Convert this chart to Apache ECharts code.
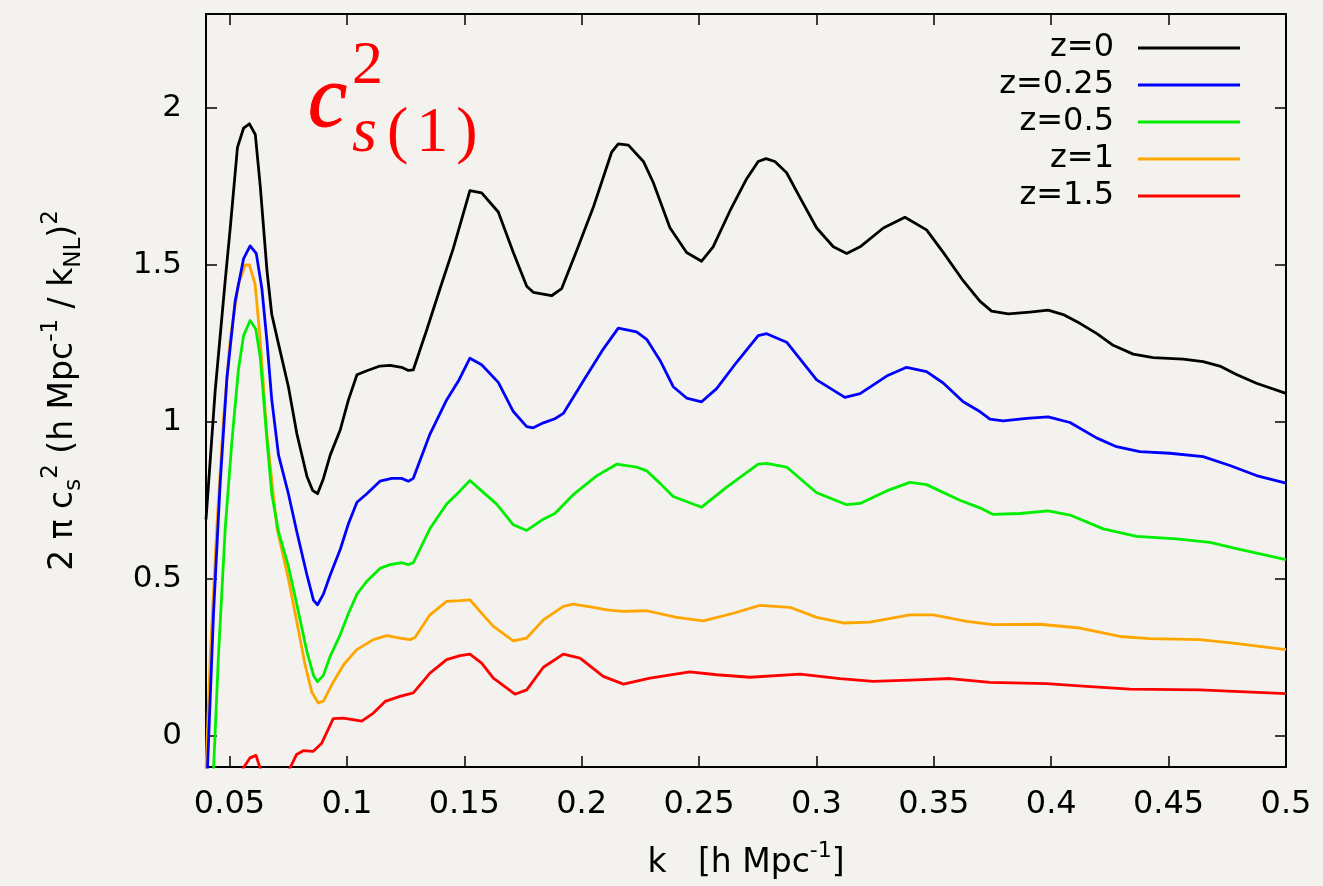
<!DOCTYPE html>
<html><head><meta charset="utf-8">
<script src="https://cdn.jsdelivr.net/npm/echarts@6/dist/echarts.min.js"></script>
<style>html,body{margin:0;padding:0;background:#f4f2ee;} #c{width:1323px;height:886px;}</style>
</head><body><div id="c"></div><script>
// ---- data ----
const seriesNames = ['z=0', 'z=0.25', 'z=0.5', 'z=1', 'z=1.5'];
const seriesColors = ['#000000', '#0000ff', '#00ee00', '#ffa500', '#ff0000'];

const kZ0 = [0.040,0.0439,0.0482,0.0503,0.0534,0.056,0.0585,0.061,0.0631,0.066,0.068,0.0709,0.0751,0.0787,0.083,0.0854,0.0875,0.09,0.0929,0.0972,0.1007,0.1043,0.1085,0.1141,0.1184,0.1233,0.1262,0.1283,0.134,0.1397,0.1453,0.1524,0.1574,0.1645,0.1709,0.1766,0.1794,0.1872,0.1915,0.1979,0.205,0.2128,0.2156,0.2199,0.2263,0.2305,0.2376,0.2447,0.2511,0.256,0.2632,0.2703,0.2752,0.2785,0.2823,0.2873,0.293,0.3001,0.3072,0.3129,0.3186,0.3285,0.3377,0.3469,0.354,0.3625,0.3696,0.3746,0.3817,0.3909,0.3987,0.4051,0.4122,0.4193,0.4264,0.4349,0.4434,0.4562,0.4647,0.4718,0.4789,0.4874,0.5];
const vZ0 = [0.689,1.098,1.452,1.616,1.875,1.936,1.95,1.916,1.752,1.48,1.343,1.248,1.112,0.962,0.826,0.782,0.771,0.819,0.894,0.975,1.071,1.15,1.163,1.178,1.180,1.174,1.164,1.166,1.293,1.425,1.552,1.737,1.730,1.669,1.540,1.432,1.413,1.402,1.425,1.546,1.685,1.86,1.886,1.882,1.830,1.763,1.619,1.540,1.512,1.558,1.673,1.775,1.830,1.839,1.830,1.794,1.715,1.618,1.558,1.537,1.558,1.618,1.652,1.612,1.540,1.45,1.385,1.353,1.344,1.350,1.356,1.342,1.314,1.282,1.244,1.216,1.205,1.2,1.192,1.178,1.151,1.123,1.091];

const kZ025 = [0.0406,0.0432,0.046,0.0489,0.0524,0.056,0.0588,0.0614,0.0638,0.0659,0.068,0.0709,0.0751,0.0787,0.083,0.0858,0.0875,0.09,0.0929,0.0972,0.1007,0.1043,0.1085,0.1141,0.1191,0.1233,0.1262,0.1283,0.1354,0.1425,0.1475,0.1524,0.1574,0.1645,0.1709,0.1766,0.1794,0.1837,0.1886,0.1922,0.2007,0.2092,0.2156,0.2234,0.2277,0.2334,0.239,0.2447,0.2511,0.2575,0.266,0.2752,0.2788,0.2873,0.3001,0.3121,0.3186,0.3299,0.3384,0.3469,0.354,0.3625,0.3696,0.3739,0.3796,0.3895,0.3987,0.408,0.4193,0.4278,0.4377,0.4505,0.4647,0.4761,0.4874,0.5];
const vZ025 = [-0.11,0.39,0.80,1.139,1.384,1.52,1.561,1.537,1.425,1.262,1.071,0.894,0.771,0.649,0.512,0.431,0.417,0.451,0.512,0.594,0.676,0.744,0.771,0.811,0.820,0.820,0.811,0.820,0.961,1.07,1.13,1.203,1.182,1.126,1.033,0.985,0.981,0.997,1.01,1.027,1.13,1.232,1.299,1.287,1.263,1.196,1.112,1.076,1.064,1.106,1.19,1.275,1.281,1.254,1.134,1.078,1.09,1.146,1.174,1.16,1.124,1.064,1.033,1.009,1.003,1.011,1.016,0.998,0.949,0.921,0.905,0.9,0.889,0.861,0.829,0.805];

const kZ05 = [0.0432,0.0453,0.0482,0.051,0.0538,0.056,0.0588,0.0612,0.0631,0.0659,0.068,0.0709,0.0751,0.0787,0.083,0.0858,0.0875,0.09,0.0929,0.0972,0.1007,0.1043,0.1085,0.1141,0.1184,0.1233,0.1262,0.1283,0.1354,0.1425,0.1482,0.1524,0.1574,0.1638,0.1709,0.1766,0.1837,0.1886,0.1964,0.2064,0.2149,0.2234,0.2277,0.2334,0.239,0.2511,0.2618,0.2752,0.2788,0.2873,0.3001,0.3129,0.3186,0.3299,0.3398,0.3469,0.3611,0.3696,0.3753,0.3867,0.3987,0.408,0.4222,0.4364,0.4534,0.4676,0.4789,0.5];
const vZ05 = [-0.11,0.253,0.662,0.935,1.166,1.275,1.323,1.296,1.207,0.948,0.771,0.649,0.54,0.417,0.267,0.192,0.172,0.192,0.253,0.322,0.39,0.451,0.492,0.533,0.545,0.551,0.545,0.551,0.66,0.738,0.78,0.813,0.78,0.738,0.672,0.654,0.69,0.708,0.768,0.828,0.865,0.856,0.844,0.804,0.762,0.728,0.792,0.865,0.868,0.856,0.774,0.736,0.74,0.78,0.807,0.8,0.75,0.726,0.705,0.708,0.716,0.703,0.659,0.635,0.627,0.616,0.596,0.561];

const kZ1 = [0.040,0.0418,0.0446,0.0474,0.0503,0.0538,0.0567,0.0585,0.0609,0.0631,0.0659,0.0702,0.0751,0.0787,0.0822,0.0851,0.0878,0.09,0.0943,0.0986,0.1042,0.1113,0.117,0.1226,0.1269,0.129,0.1354,0.1425,0.1482,0.1524,0.1567,0.1624,0.1709,0.1766,0.1837,0.1922,0.1964,0.205,0.2107,0.2178,0.2277,0.2405,0.2518,0.2646,0.2759,0.2887,0.3001,0.3114,0.3228,0.3398,0.3498,0.364,0.3753,0.3952,0.4122,0.4293,0.442,0.4633,0.4775,0.5];
const vZ1 = [-0.11,0.253,0.662,1.003,1.262,1.439,1.5,1.5,1.439,1.262,0.962,0.662,0.499,0.362,0.226,0.138,0.104,0.11,0.172,0.226,0.274,0.306,0.319,0.311,0.306,0.313,0.385,0.428,0.43,0.433,0.396,0.348,0.302,0.311,0.369,0.412,0.419,0.409,0.401,0.396,0.398,0.377,0.366,0.39,0.415,0.409,0.377,0.359,0.362,0.385,0.385,0.364,0.354,0.355,0.343,0.316,0.309,0.306,0.295,0.274];

const kZ15 = [0.0545,0.0559,0.0587,0.0613,0.063,0.0694,0.0758,0.0786,0.0814,0.0857,0.0893,0.0942,0.0985,0.1063,0.1113,0.1163,0.1226,0.1283,0.1354,0.1425,0.1482,0.1524,0.1574,0.1624,0.1716,0.1766,0.1837,0.1922,0.1993,0.2092,0.2178,0.2291,0.2461,0.2575,0.2717,0.293,0.31,0.3242,0.3427,0.3569,0.3739,0.398,0.4151,0.4335,0.4633,0.5];
const vZ15 = [-0.16,-0.103,-0.071,-0.063,-0.103,-0.2,-0.103,-0.06,-0.048,-0.05,-0.024,0.054,0.056,0.046,0.072,0.109,0.125,0.136,0.199,0.242,0.255,0.26,0.231,0.183,0.132,0.146,0.218,0.26,0.247,0.189,0.164,0.183,0.203,0.194,0.186,0.196,0.182,0.173,0.178,0.182,0.17,0.166,0.157,0.148,0.146,0.134];

const xTicks = [0.05,0.1,0.15,0.2,0.25,0.3,0.35,0.4,0.45,0.5];
const yTicks = [0,0.5,1,1.5,2];

// ---- chart ----
const kArrays = [kZ0, kZ025, kZ05, kZ1, kZ15];
const vArrays = [vZ0, vZ025, vZ05, vZ1, vZ15];
const FONT = 'DejaVu Sans';

const chart = echarts.init(document.getElementById('c'), null, {renderer: 'canvas'});

const frameLine = {show: true, onZero: false, lineStyle: {color: '#000', width: 2}};
const tickStyle = (vals) => ({show: true, inside: true, length: 11, customValues: vals, lineStyle: {color: '#000', width: 1.5}});

const series = seriesNames.map((name, i) => ({
  name: name,
  type: 'line',
  data: kArrays[i].map((k, j) => [k, vArrays[i][j]]),
  showSymbol: false,
  symbol: 'none',
  clip: true,
  smooth: false,
  color: seriesColors[i],
  lineStyle: {color: seriesColors[i], width: 2.8, join: 'round'},
  itemStyle: {color: seriesColors[i]},
  xAxisIndex: 0,
  yAxisIndex: 0,
  z: 10 - i
}));

chart.setOption({
  animation: false,
  backgroundColor: '#f4f2ee',
  grid: {left: 206, right: 37, top: 14, bottom: 119, containLabel: false, outerBoundsMode: 'none'},
  xAxis: [{
    type: 'value', min: 0.04, max: 0.5, position: 'bottom',
    axisLine: frameLine, axisTick: tickStyle(xTicks),
    axisLabel: {show: true, customValues: xTicks, margin: 22, fontFamily: FONT, fontSize: 32, color: '#000'},
    splitLine: {show: false},
    name: '{t|k   [h Mpc}{sup|-1}{t|]}', nameLocation: 'middle', nameGap: 73,
    nameTextStyle: {fontFamily: FONT, fontSize: 33, color: '#000', rich: {
      t: {fontFamily: FONT, fontSize: 33, lineHeight: 46, color: '#000'},
      sup: {fontFamily: FONT, fontSize: 22, lineHeight: 24, verticalAlign: 'top', color: '#000'}
    }}
  }, {
    type: 'value', min: 0.04, max: 0.5, position: 'top',
    axisLine: frameLine, axisTick: tickStyle(xTicks),
    axisLabel: {show: false}, splitLine: {show: false}
  }],
  yAxis: [{
    type: 'value', min: -0.1, max: 2.3, position: 'left',
    axisLine: frameLine, axisTick: tickStyle(yTicks),
    axisLabel: {show: true, customValues: yTicks, margin: 24, fontFamily: FONT, fontSize: 31, color: '#000'},
    splitLine: {show: false},
    name: '{t|2 π c}{sub|s}{sup|2}{t| (h Mpc}{sup|-1}{t| / k}{sub|NL}{t|)}{sup|2}',
    nameLocation: 'middle', nameGap: 120, nameRotate: 90,
    nameTextStyle: {fontFamily: FONT, fontSize: 33, color: '#000', rich: {
      t: {fontFamily: FONT, fontSize: 33, lineHeight: 46, color: '#000'},
      sup: {fontFamily: FONT, fontSize: 23, lineHeight: 24, verticalAlign: 'top', color: '#000'},
      sub: {fontFamily: FONT, fontSize: 23, lineHeight: 24, verticalAlign: 'bottom', color: '#000'}
    }}
  }, {
    type: 'value', min: -0.1, max: 2.3, position: 'right',
    axisLine: frameLine, axisTick: tickStyle(yTicks),
    axisLabel: {show: false}, splitLine: {show: false}
  }],
  legend: {
    orient: 'vertical', right: 78, top: 27, align: 'right',
    itemWidth: 102, itemHeight: 3, itemGap: 5, icon: 'rect',
    selectedMode: false,
    textStyle: {fontFamily: FONT, fontSize: 32, lineHeight: 30, color: '#000', padding: [0, 19, 0, 0]},
    data: seriesNames
  },
  graphic: [
    {type: 'text', x: 308, y: 103, silent: true,
     style: {text: 'c', font: 'italic 88px "Liberation Serif"', fill: '#ff0000', align: 'left', verticalAlign: 'middle', stroke: '#ff0000', lineWidth: 1}},
    {type: 'text', x: 352, y: 67, silent: true,
     style: {text: '2', font: '62px "Liberation Serif"', fill: '#ff0000', align: 'left', verticalAlign: 'middle'}},
    {type: 'text', x: 352, y: 134, silent: true,
     style: {text: '{i|s}{n|(}{n|1}{n|)}', fill: '#ff0000', align: 'left', verticalAlign: 'middle',
       rich: {
         i: {fontFamily: 'Liberation Serif', fontStyle: 'italic', fontSize: 64, fill: '#ff0000', color: '#ff0000', padding: [0, 6, 0, 0]},
         n: {fontFamily: 'Liberation Serif', fontSize: 64, fill: '#ff0000', color: '#ff0000', padding: [0, 4, 0, 4]}
       }}}
  ],
  series: series
});
</script></body></html>
